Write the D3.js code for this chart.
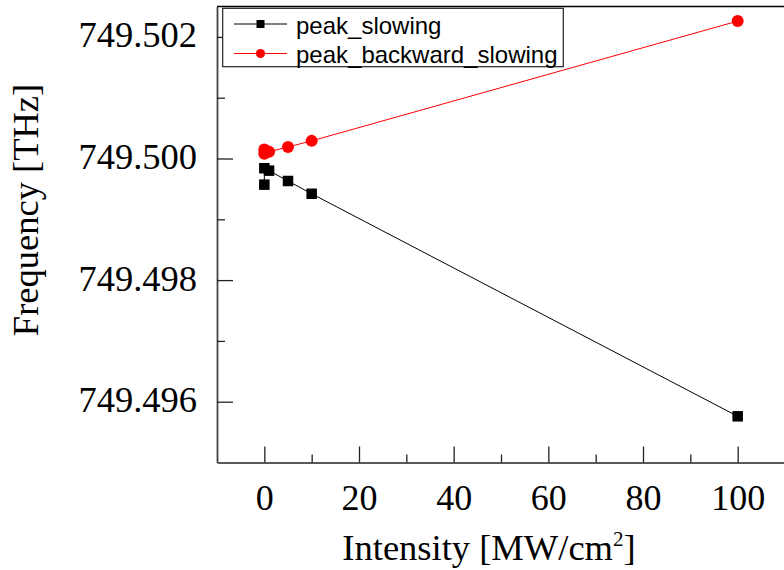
<!DOCTYPE html>
<html>
<head>
<meta charset="utf-8">
<script src="https://cdn.jsdelivr.net/npm/d3@7"></script>
<style>
  html, body { margin: 0; padding: 0; background: #fff; }
  svg { display: block; }
</style>
</head>
<body>
<svg id="chart" width="784" height="570"></svg>
<script>
// ---- Data ----
const seriesNames = ["peak_slowing", "peak_backward_slowing"];
const intensitySlowing = [0, 0, 1, 5, 10, 100];
const freqSlowing = [749.49957, 749.49984, 749.49980, 749.49963, 749.49942, 749.49576];
const intensityBackward = [0, 0, 1, 5, 10, 100];
const freqBackward = [749.50015, 749.50008, 749.50011, 749.50019, 749.50029, 749.50226];
const xMajorTicks = [0, 20, 40, 60, 80, 100];
const xMinorTicks = [10, 30, 50, 70, 90];
const yMajorTicks = [749.496, 749.498, 749.500, 749.502];
const yMinorTicks = [749.497, 749.499, 749.501];
const xTitle = "Intensity [MW/cm";
const xTitleSup = "2";
const yTitle = "Frequency [THz]";

(function () {
// ---- Layout ----
const svg = d3.select("#chart");
const pL = 217, pR = 785, pT = 6.5, pB = 462.5;
const x = d3.scaleLinear().domain([-10, 110]).range([pL, pR]);
const y = d3.scaleLinear().domain([749.495, 749.5025]).range([pB, pT]);
const serif = "'Liberation Serif', 'Times New Roman', serif";
const sans = "'Liberation Sans', Arial, sans-serif";

// frame (top + right)
svg.append("line").attr("x1", pL).attr("x2", pR).attr("y1", pT).attr("y2", pT)
  .attr("stroke", "#000").attr("stroke-width", 1.5);
svg.append("line").attr("x1", pR).attr("x2", pR).attr("y1", pT).attr("y2", pB)
  .attr("stroke", "#000").attr("stroke-width", 1.5);

// bottom axis
const xAxis = d3.axisBottom(x).tickValues(xMajorTicks).tickSizeInner(-16).tickSizeOuter(0)
  .tickFormat(d3.format("d"));
const gx = svg.append("g").attr("transform", `translate(0,${pB})`).call(xAxis);
gx.select(".domain").attr("stroke", "#222").attr("stroke-width", 1.5);
gx.selectAll(".tick line").attr("stroke", "#222").attr("stroke-width", 1.3);
gx.selectAll(".tick text").attr("font-family", serif).attr("font-size", 36)
  .attr("fill", "#000").attr("y", 47.5).attr("dy", 0);
const xMinor = d3.axisBottom(x).tickValues(xMinorTicks).tickSize(-8).tickFormat("");
const gxm = svg.append("g").attr("transform", `translate(0,${pB})`).call(xMinor);
gxm.select(".domain").remove();
gxm.selectAll(".tick line").attr("stroke", "#222").attr("stroke-width", 1.3);

// left axis
const yAxis = d3.axisLeft(y).tickValues(yMajorTicks).tickSizeInner(-16).tickSizeOuter(0)
  .tickFormat(d3.format(".3f"));
const gy = svg.append("g").attr("transform", `translate(${pL},0)`).call(yAxis);
gy.select(".domain").attr("stroke", "#444").attr("stroke-width", 1.8);
gy.selectAll(".tick line").attr("stroke", "#222").attr("stroke-width", 1.3);
gy.selectAll(".tick text").attr("font-family", serif).attr("font-size", 36.5)
  .attr("fill", "#000").attr("x", -20).attr("dy", 10);
const yMinor = d3.axisLeft(y).tickValues(yMinorTicks).tickSize(-8).tickFormat("");
const gym = svg.append("g").attr("transform", `translate(${pL},0)`).call(yMinor);
gym.select(".domain").remove();
gym.selectAll(".tick line").attr("stroke", "#222").attr("stroke-width", 1.3);

// axis titles
const xt = svg.append("text").attr("x", 489).attr("y", 559.5).attr("text-anchor", "middle")
  .attr("font-family", serif).attr("font-size", 36.5).attr("fill", "#000");
xt.append("tspan").text(xTitle);
xt.append("tspan").text(xTitleSup).attr("font-size", 21).attr("dy", -14);
xt.append("tspan").text("]").attr("dy", 14);

svg.append("text").attr("transform", "translate(37.5,210) rotate(-90)")
  .attr("text-anchor", "middle").attr("font-family", serif).attr("font-size", 36.5)
  .attr("fill", "#000").text(yTitle);

// series
const slowData = intensitySlowing.map((v, i) => ({ x: v, y: freqSlowing[i] }));
const backData = intensityBackward.map((v, i) => ({ x: v, y: freqBackward[i] }));
const line = d3.line().x(d => x(d.x)).y(d => y(d.y));

svg.append("path").datum(slowData).attr("d", line).attr("fill", "none")
  .attr("stroke", "#000").attr("stroke-width", 1);
svg.append("path").datum(backData).attr("d", line).attr("fill", "none")
  .attr("stroke", "#ff0000").attr("stroke-width", 1);

const sq = 10.5;
svg.append("g").selectAll("rect").data(slowData).join("rect")
  .attr("x", d => x(d.x) - sq / 2).attr("y", d => y(d.y) - sq / 2)
  .attr("width", sq).attr("height", sq).attr("fill", "#000");
svg.append("g").selectAll("circle").data(backData).join("circle")
  .attr("cx", d => x(d.x)).attr("cy", d => y(d.y)).attr("r", 6).attr("fill", "#ff0000");

// legend
const lg = svg.append("g");
lg.append("rect").attr("x", 222.7).attr("y", 8.3).attr("width", 340.6).attr("height", 58.4)
  .attr("fill", "#fff").attr("stroke", "#222").attr("stroke-width", 1.2);
const legendRows = [
  { name: seriesNames[0], color: "#000", shape: "square", cy: 24 },
  { name: seriesNames[1], color: "#ff0000", shape: "circle", cy: 53.5 }
];
legendRows.forEach(r => {
  lg.append("line").attr("x1", 234).attr("x2", 287).attr("y1", r.cy).attr("y2", r.cy)
    .attr("stroke", r.color).attr("stroke-width", 1);
  if (r.shape === "square") {
    lg.append("rect").attr("x", 260.5 - 4).attr("y", r.cy - 4).attr("width", 8).attr("height", 8)
      .attr("fill", r.color);
  } else {
    lg.append("circle").attr("cx", 260.5).attr("cy", r.cy).attr("r", 4.6).attr("fill", r.color);
  }
  lg.append("text").attr("x", 296).attr("y", r.cy + 9.5).attr("font-family", sans)
    .attr("font-size", 24).attr("fill", "#000").text(r.name);
});
})();
</script>
</body>
</html>
